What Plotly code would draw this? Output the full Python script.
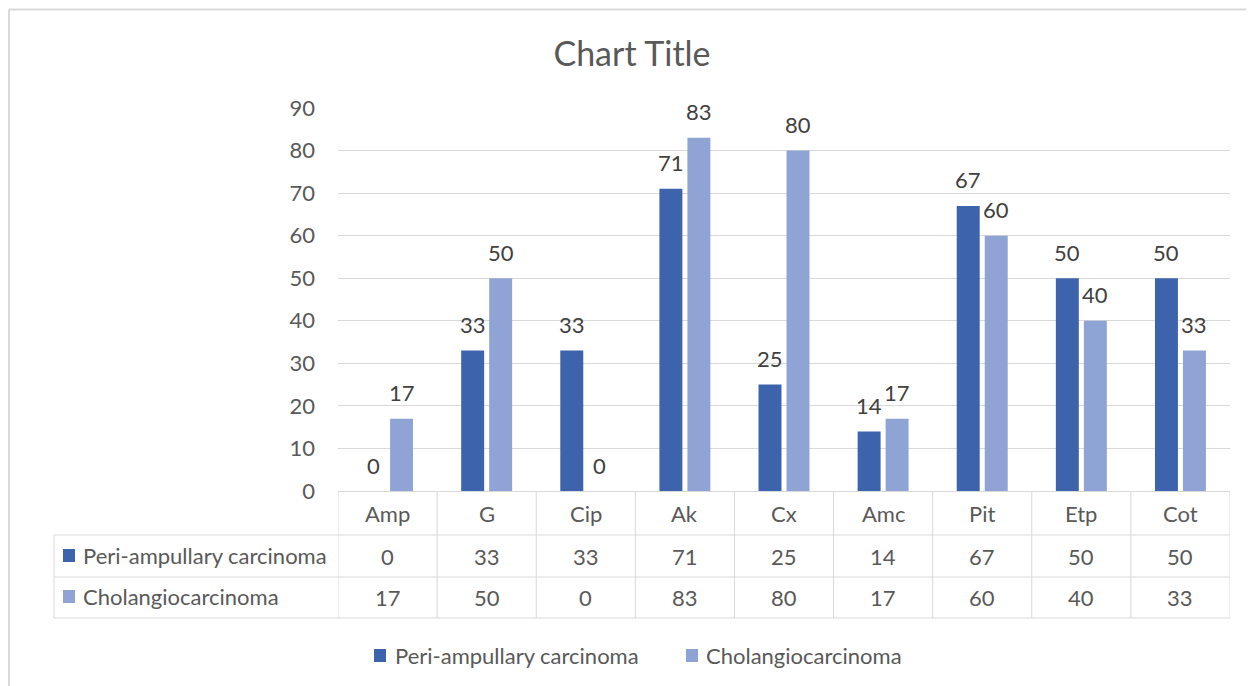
import plotly.graph_objects as go

categories = ["Amp", "G", "Cip", "Ak", "Cx", "Amc", "Pit", "Etp", "Cot"]
series_names = ["Peri-ampullary carcinoma", "Cholangiocarcinoma"]
peri_values = [0, 33, 33, 71, 25, 14, 67, 50, 50]
chol_values = [17, 50, 0, 83, 80, 17, 60, 40, 33]
y_ticks = [0, 10, 20, 30, 40, 50, 60, 70, 80, 90]
title_text = "Chart Title"

colors = ["#3C63AC", "#8FA4D4"]
text_color = "#595959"
line_color = "#D9D9D9"
FONT = "Lato"
FS = 22

# page body margin offset (figure div sits at 8,8 in the page)
OFF = 8
W, H = 1254 - OFF, 686 - OFF
L, R, T, B = 338, 1230, 108, 491  # in screen pixels


def px(x):
    return (x - L) / (R - L)


def py(y):
    return (B - y) / (B - T)


fig = go.Figure()
series = [peri_values, chol_values]
for name, vals, col in zip(series_names, series, colors):
    fig.add_trace(go.Bar(x=categories, y=vals, name=name, marker_color=col,
                         marker_line_width=0, showlegend=False))

annotations = []
shapes = []

# data labels
for k, vals in enumerate(series):
    shift = -14 if k == 0 else 14
    for c, v in zip(categories, vals):
        annotations.append(dict(x=c, y=v, xref="x", yref="y", text=str(v),
                                showarrow=False, xshift=shift, yshift=26,
                                yanchor="middle",
                                font=dict(family=FONT, size=FS, color="#404040")))

# data table: header row
row_y = [513, 556, 597]
for c in categories:
    annotations.append(dict(x=c, y=py(row_y[0]), xref="x", yref="paper", text=c,
                            showarrow=False, yanchor="middle",
                            font=dict(family=FONT, size=FS, color=text_color)))
# data rows
for k, vals in enumerate(series):
    for c, v in zip(categories, vals):
        annotations.append(dict(x=c, y=py(row_y[k + 1]), xref="x", yref="paper",
                                text=str(v), showarrow=False, yanchor="middle",
                                font=dict(family=FONT, size=FS, color=text_color)))
    # row labels with keys
    annotations.append(dict(x=px(81), y=py(row_y[k + 1] - 1), xref="paper", yref="paper",
                            text=series_names[k], showarrow=False, xanchor="left",
                            yanchor="middle",
                            font=dict(family=FONT, size=FS, color=text_color)))
    shapes.append(dict(type="rect", xref="paper", yref="paper",
                       x0=px(63), x1=px(75), y0=py(row_y[k + 1] - 7), y1=py(row_y[k + 1] + 6),
                       fillcolor=colors[k], line_width=0))

# table lines
n = len(categories)
for i in range(n + 1):
    shapes.append(dict(type="line", xref="x", yref="paper", x0=i - 0.5, x1=i - 0.5,
                       y0=py(491), y1=py(618), line=dict(color=line_color, width=1)))
for yy in [535, 577, 618]:
    shapes.append(dict(type="line", xref="paper", yref="paper", x0=px(54), x1=1,
                       y0=py(yy), y1=py(yy), line=dict(color=line_color, width=1)))
shapes.append(dict(type="line", xref="paper", yref="paper", x0=px(54), x1=px(54),
                   y0=py(535), y1=py(618), line=dict(color=line_color, width=1)))

# outer frame
shapes.append(dict(type="line", xref="paper", yref="paper", x0=px(9), x1=px(1260),
                   y0=py(9.5), y1=py(9.5), line=dict(color=line_color, width=2)))
shapes.append(dict(type="line", xref="paper", yref="paper", x0=px(9), x1=px(9),
                   y0=py(9.5), y1=py(700), line=dict(color=line_color, width=2)))

# bottom legend
leg = [(374, 393), (686, 704)]
for k, (sx, tx) in enumerate(leg):
    shapes.append(dict(type="rect", xref="paper", yref="paper",
                       x0=px(sx), x1=px(sx + 12), y0=py(662), y1=py(649),
                       fillcolor=colors[k], line_width=0))
    annotations.append(dict(x=px(tx), y=py(655), xref="paper", yref="paper",
                            text=series_names[k], showarrow=False, xanchor="left",
                            yanchor="middle",
                            font=dict(family=FONT, size=FS, color=text_color)))

fig.update_layout(
    width=W, height=H,
    margin=dict(l=L - OFF, r=1254 - R, t=T - OFF, b=686 - B, pad=0),
    paper_bgcolor="white", plot_bgcolor="white",
    barmode="group", bargap=0.435, bargroupgap=0.18,
    title=dict(text=title_text, x=(632 - OFF) / W, xanchor="center", y=1 - (54 - OFF) / H,
               yanchor="middle", font=dict(family=FONT, size=34, color=text_color)),
    xaxis=dict(range=[-0.5, n - 0.5], showticklabels=False, showgrid=False,
               showline=False, zeroline=False, ticks=""),
    yaxis=dict(range=[0, 90], tickvals=y_ticks, showgrid=True, gridcolor=line_color,
               gridwidth=1, zeroline=True, zerolinecolor=line_color, zerolinewidth=1,
               showline=False, ticks="", ticklabelstandoff=22,
               tickfont=dict(family=FONT, size=FS, color=text_color)),
    annotations=annotations, shapes=shapes,
)

fig.write_html("out.html")
